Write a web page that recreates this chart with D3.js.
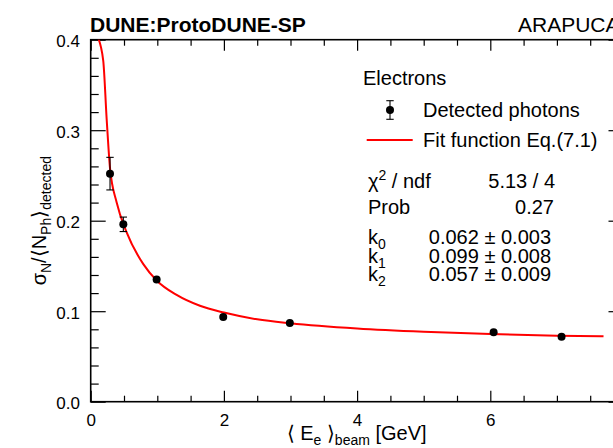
<!DOCTYPE html>
<html><head><meta charset="utf-8">
<script src="https://cdn.jsdelivr.net/npm/d3@7"></script>
<style>
body{margin:0;background:#fff;}
svg{display:block;font-family:"Liberation Sans",Arial,Helvetica,sans-serif;}
</style></head>
<body><svg id="c" width="613" height="448"></svg>
<script>
// ---- data ----
const energies   = [0.29, 0.49, 0.99, 1.99, 2.99, 6.05, 7.07];
const resolution = [0.252, 0.196, 0.135, 0.0937, 0.087, 0.0768, 0.0718];
const errors     = [0.018, 0.008, 0.004, 0.002, 0.002, 0.002, 0.002];
const fitE = [0.10, 0.188, 0.24, 0.29, 0.39, 0.54, 0.79, 0.99, 1.29, 1.64, 2.0, 2.5, 3.0, 4.0, 5.0, 6.0, 7.0, 7.7];
const fitV = [0.404, 0.377, 0.312, 0.258, 0.220, 0.187, 0.152, 0.134, 0.118, 0.106, 0.0985, 0.091, 0.0866, 0.0808, 0.0772, 0.0748, 0.0730, 0.0722];
const xMajor = [0, 2, 4, 6, 8];
const yMajor = [0, 0.1, 0.2, 0.3, 0.4];
const xTickLabels = ["0", "2", "4", "6", ""];
const yTickLabels = ["0.0", "0.1", "0.2", "0.3", "0.4"];
const statNames  = ["k0", "k1", "k2"];
const statValues = ["0.062 ± 0.003", "0.099 ± 0.008", "0.057 ± 0.009"];

const svg = d3.select("#c");
const L = 90.7, R = 623.5, T = 39.7, B = 401.7;
const x = d3.scaleLinear().domain([0, 8]).range([L, R]);
const y = d3.scaleLinear().domain([0, 0.4]).range([B, T]);
const xMinor = d3.range(0, 8.01, 0.5).filter(v => xMajor.indexOf(v) < 0);
const yMinor = d3.range(0, 0.401, 0.02).map(v => +v.toFixed(2)).filter(v => yMajor.indexOf(v) < 0);

function styleAxis(g){ g.select(".domain").remove(); g.selectAll("line").attr("stroke","#000").attr("stroke-width",1.2); }

// bottom axis
svg.append("g").attr("transform",`translate(0,${B})`)
  .call(d3.axisBottom(x).tickValues(xMajor).tickSize(-11).tickPadding(12).tickFormat((d,i)=>xTickLabels[i]))
  .call(styleAxis).call(g=>g.selectAll("text").attr("font-size",17).attr("fill","#000").attr("font-family","Liberation Sans, Arial"));
svg.append("g").attr("transform",`translate(0,${B})`)
  .call(d3.axisBottom(x).tickValues(xMinor).tickSize(-6).tickFormat("")).call(styleAxis);
// top axis
svg.append("g").attr("transform",`translate(0,${T})`)
  .call(d3.axisTop(x).tickValues(xMajor).tickSize(-11).tickFormat("")).call(styleAxis);
svg.append("g").attr("transform",`translate(0,${T})`)
  .call(d3.axisTop(x).tickValues(xMinor).tickSize(-6).tickFormat("")).call(styleAxis);
// left axis
svg.append("g").attr("transform",`translate(${L},0)`)
  .call(d3.axisLeft(y).tickValues(yMajor).tickSize(-15).tickPadding(10.7).tickFormat((d,i)=>yTickLabels[i]))
  .call(styleAxis).call(g=>g.selectAll("text").attr("font-size",17).attr("fill","#000").attr("dy","0.42em").attr("font-family","Liberation Sans, Arial"));
svg.append("g").attr("transform",`translate(${L},0)`)
  .call(d3.axisLeft(y).tickValues(yMinor).tickSize(-8).tickFormat("")).call(styleAxis);
// right axis
svg.append("g").attr("transform",`translate(${R},0)`)
  .call(d3.axisRight(y).tickValues(yMajor).tickSize(-15).tickFormat("")).call(styleAxis);
svg.append("g").attr("transform",`translate(${R},0)`)
  .call(d3.axisRight(y).tickValues(yMinor).tickSize(-8).tickFormat("")).call(styleAxis);

// frame
svg.append("rect").attr("x",L).attr("y",T).attr("width",R-L).attr("height",B-T)
  .attr("fill","none").attr("stroke","#000").attr("stroke-width",1.6);

// clip
svg.append("clipPath").attr("id","clip").append("rect").attr("x",L).attr("y",T).attr("width",R-L).attr("height",B-T);

// fit curve
const fitPts = fitE.map((e,i)=>[e, fitV[i]]);
svg.append("path").attr("clip-path","url(#clip)")
  .attr("d", d3.line().x(d=>x(d[0])).y(d=>y(d[1])).curve(d3.curveMonotoneX)(fitPts))
  .attr("fill","none").attr("stroke","#ff0000").attr("stroke-width",2);

// data points
const pts = energies.map((e,i)=>({e, v:resolution[i], err:errors[i]}));
const pg = svg.append("g");
pts.forEach(p=>{
  const cx = x(p.e), y1 = y(p.v + p.err), y2 = y(p.v - p.err);
  if (y2 - y1 > 9) {
    pg.append("line").attr("x1",cx).attr("x2",cx).attr("y1",y1).attr("y2",y2).attr("stroke","#000").attr("stroke-width",1.1);
    [y1,y2].forEach(yy=>pg.append("line").attr("x1",cx-3.7).attr("x2",cx+3.7).attr("y1",yy).attr("y2",yy).attr("stroke","#000").attr("stroke-width",1.1));
  }
  pg.append("circle").attr("cx",cx).attr("cy",y(p.v)).attr("r",4).attr("fill","#000");
});

// titles
svg.append("text").attr("x",90).attr("y",31.7).attr("font-size",21).attr("font-weight","bold").text("DUNE:ProtoDUNE-SP");
svg.append("text").attr("x",518).attr("y",31.7).attr("font-size",21).text("ARAPUCA");

// x title
const xt = svg.append("text").attr("x",(L+R)/2 - 0.5).attr("y",440).attr("text-anchor","middle").attr("font-size",20);
xt.append("tspan").text("⟨ E");
xt.append("tspan").attr("font-size",14).attr("dy",5).text("e");
xt.append("tspan").attr("dy",-5).text(" ⟩");
xt.append("tspan").attr("font-size",14).attr("dy",5).text("beam");
xt.append("tspan").attr("dy",-5).text(" [GeV]");

// y title
const yt = svg.append("text").attr("transform",`translate(46,${(T+B)/2}) rotate(-90)`).attr("text-anchor","middle").attr("font-size",20);
yt.append("tspan").text("σ");
yt.append("tspan").attr("font-size",14).attr("dy",5).text("N");
yt.append("tspan").attr("dy",-5).text("/⟨N");
yt.append("tspan").attr("font-size",14).attr("dy",5).text("Ph");
yt.append("tspan").attr("dy",-5).text("⟩");
yt.append("tspan").attr("font-size",14).attr("dy",5).text("detected");

// legend
svg.append("text").attr("x",363).attr("y",85).attr("font-size",20).text("Electrons");
svg.append("line").attr("x1",390).attr("x2",390).attr("y1",100.7).attr("y2",119.3).attr("stroke","#000").attr("stroke-width",1.1);
[100.7,119.3].forEach(yy=>svg.append("line").attr("x1",386.3).attr("x2",393.7).attr("y1",yy).attr("y2",yy).attr("stroke","#000").attr("stroke-width",1.1));
svg.append("circle").attr("cx",390).attr("cy",110).attr("r",4).attr("fill","#000");
svg.append("text").attr("x",423).attr("y",116.5).attr("font-size",20).text("Detected photons");
svg.append("line").attr("x1",366.7).attr("x2",412.7).attr("y1",140).attr("y2",140).attr("stroke","#ff0000").attr("stroke-width",2);
svg.append("text").attr("x",423).attr("y",146.5).attr("font-size",20).text("Fit function Eq.(7.1)");

// stats
const chi = svg.append("text").attr("x",368).attr("y",188).attr("font-size",20);
chi.append("tspan").text("χ");
chi.append("tspan").attr("font-size",14).attr("dy",-8).text("2");
chi.append("tspan").attr("dy",8).text(" / ndf");
svg.append("text").attr("x",555).attr("y",188).attr("text-anchor","end").attr("font-size",20).text("5.13 / 4");
svg.append("text").attr("x",368).attr("y",214).attr("font-size",20).text("Prob");
svg.append("text").attr("x",554).attr("y",214).attr("text-anchor","end").attr("font-size",20).text("0.27");
const rowY = [243.5, 262.5, 280.5];
statNames.forEach((n,i)=>{
  const t = svg.append("text").attr("x",368).attr("y",rowY[i]).attr("font-size",20);
  t.append("tspan").text(n[0]);
  t.append("tspan").attr("font-size",14).attr("dy",5).text(n.slice(1));
  svg.append("text").attr("x",551).attr("y",rowY[i]).attr("text-anchor","end").attr("font-size",20).text(statValues[i]);
});
</script></body></html>
